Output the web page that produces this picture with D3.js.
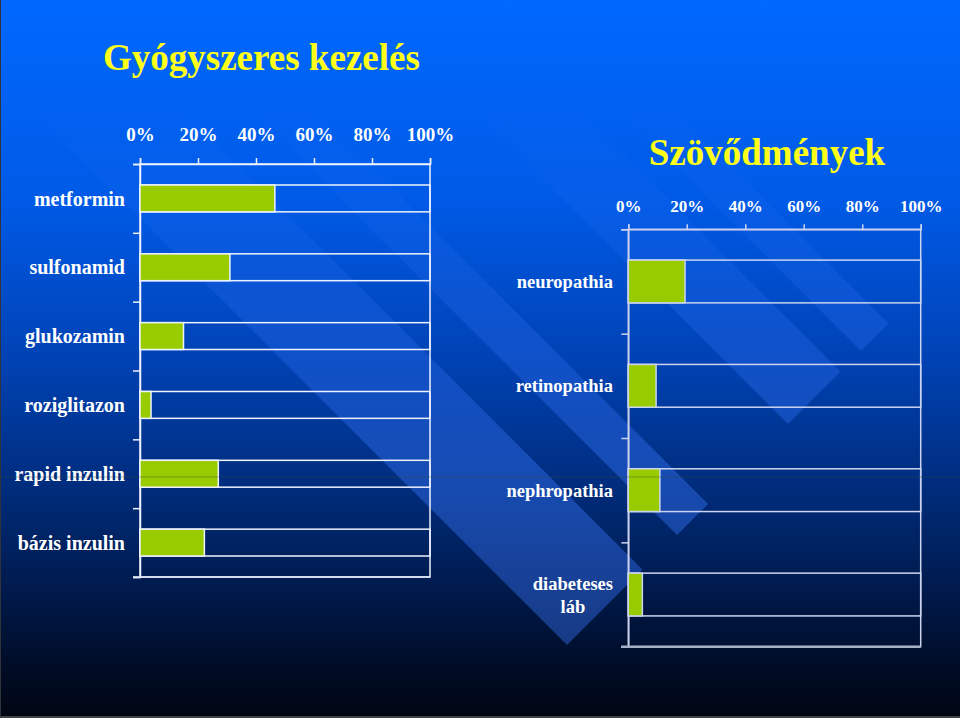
<!DOCTYPE html>
<html><head><meta charset="utf-8">
<script src="https://cdn.jsdelivr.net/npm/d3@7/dist/d3.min.js"></script>
<style>html,body{margin:0;padding:0;background:#000;}svg{display:block;}</style>
</head><body>
<script>
// ---- data ----
const titleLeft = "Gyógyszeres kezelés";
const titleRight = "Szövődmények";
const drugCategories = ["metformin","sulfonamid","glukozamin","roziglitazon","rapid inzulin","bázis inzulin"];
const drugValues = [46.5, 31, 15, 3.8, 27, 22.2];
const compCategories = ["neuropathia","retinopathia","nephropathia","diabeteses\nláb"];
const compValues = [19.4, 9.5, 10.8, 4.8];
const tickValues = [0, 20, 40, 60, 80, 100];
const tickLabels = ["0%","20%","40%","60%","80%","100%"];

const W = 960, H = 718;
const FONT = "'Liberation Serif','Times New Roman',serif";
const svg = d3.select("body").append("svg").attr("width", W).attr("height", H);
const defs = svg.append("defs");

// background gradient
const bg = defs.append("linearGradient").attr("id","bg").attr("x1",0).attr("y1",0).attr("x2",0).attr("y2",1);
[[0,"#0068ff"],[0.28,"#005ae6"],[0.5,"#0042b4"],[0.68,"#002c7c"],[0.82,"#001a4c"],[0.93,"#000c26"],[1,"#000612"]]
  .forEach(([o,c])=>bg.append("stop").attr("offset",o).attr("stop-color",c));
svg.append("rect").attr("width",W).attr("height",H).attr("fill","url(#bg)");

// diagonal beams (x-y edges, end at x+y = 1212)
const beams = [[-78,73],[142,204],[364,469],[510,565]];
const beamGrad = defs.append("linearGradient").attr("id","beam")
  .attr("gradientUnits","userSpaceOnUse").attr("x1",0).attr("y1",90).attr("x2",0).attr("y2",470);
beamGrad.append("stop").attr("offset",0).attr("stop-color","#3a78ff").attr("stop-opacity",0);
beamGrad.append("stop").attr("offset",0.35).attr("stop-color","#3a78ff").attr("stop-opacity",0.12);
beamGrad.append("stop").attr("offset",1).attr("stop-color","#3a78ff").attr("stop-opacity",0.4);
const endS = 1212, startS = 150;
beams.forEach(([a,b])=>{
  const pt = (d,s)=>[(s+d)/2,(s-d)/2];
  const pts = [pt(a,startS),pt(b,startS),pt(b,endS),pt(a,endS)];
  svg.append("polygon").attr("points",pts.map(p=>p.join(",")).join(" "))
    .attr("fill","url(#beam)");
});

// titles
svg.append("text").attr("x",103).attr("y",70).text(titleLeft)
  .attr("font-family",FONT).attr("font-weight","bold").attr("font-size",37).attr("fill","#ffff1a");
svg.append("text").attr("x",767).attr("y",165).attr("text-anchor","middle").text(titleRight)
  .attr("font-family",FONT).attr("font-weight","bold").attr("font-size",37).attr("fill","#ffff1a");

function drawChart(cfg){
  const g = svg.append("g");
  const x = d3.scaleLinear().domain([0,100]).range([cfg.x0,cfg.x1]);
  const y = d3.scaleBand().domain(cfg.cats).range([cfg.y0,cfg.y1])
    .paddingInner(cfg.pad).paddingOuter(cfg.pad/2);
  const yIdx = d3.scaleLinear().domain([0,cfg.cats.length]).range([cfg.y0,cfg.y1]);

  // frame
  g.append("rect").attr("x",cfg.x0).attr("y",cfg.y0).attr("width",cfg.x1-cfg.x0).attr("height",cfg.y1-cfg.y0)
    .attr("fill","none").attr("stroke",cfg.line).attr("stroke-width",1.5);

  // top axis
  const ax = g.append("g").attr("transform",`translate(0,${cfg.y0})`)
    .call(d3.axisTop(x).tickValues(tickValues).tickFormat((d,i)=>tickLabels[i])
      .tickSize(cfg.tick).tickPadding(cfg.tickPad));
  ax.select(".domain").attr("stroke",cfg.line).attr("stroke-width",1.5);
  ax.selectAll(".tick line").attr("stroke",cfg.line).attr("stroke-width",1.5);
  ax.selectAll(".tick text").attr("fill","#fff").attr("font-family",FONT).attr("font-weight","bold")
    .attr("font-size",cfg.tickFont);

  // left axis (band boundaries)
  const ay = g.append("g").attr("transform",`translate(${cfg.x0},0)`)
    .call(d3.axisLeft(yIdx).tickValues(d3.range(cfg.cats.length+1)).tickFormat("").tickSize(7));
  ay.select(".domain").attr("stroke",cfg.line).attr("stroke-width",1.5);
  ay.selectAll(".tick line").attr("stroke",cfg.line).attr("stroke-width",1.5);

  // bars: full outline + green value
  g.selectAll(".bg").data(cfg.cats).join("rect")
    .attr("x",x(0)).attr("y",d=>y(d)).attr("width",x(100)-x(0)).attr("height",y.bandwidth())
    .attr("fill","none").attr("stroke",cfg.line).attr("stroke-width",1.5);
  g.selectAll(".val").data(cfg.cats).join("rect")
    .attr("x",x(0)).attr("y",d=>y(d)).attr("width",(d,i)=>x(cfg.vals[i])-x(0)).attr("height",y.bandwidth())
    .attr("fill","#99cc00").attr("stroke",cfg.line).attr("stroke-width",1.5);

  // bottom line (slightly heavier)
  g.append("line").attr("x1",cfg.x0-7).attr("x2",cfg.x1).attr("y1",cfg.y1).attr("y2",cfg.y1)
    .attr("stroke",cfg.bottomLine).attr("stroke-width",cfg.bottomW);

  // category labels
  cfg.cats.forEach(c=>{
    const lines = c.split("\n");
    const cy = y(c)+y.bandwidth()/2;
    const t = g.append("text").attr("fill","#fff").attr("font-family",FONT).attr("font-weight","bold")
      .attr("font-size",cfg.labFont);
    const lh = cfg.labFont*1.25;
    const first = cy + cfg.labFont*0.36 - (lines.length-1)*lh/2;
    lines.forEach((l,k)=>t.append("tspan").attr("x",cfg.labRight).attr("y",first+k*lh).text(l));
    if(lines.length>1){
      const wmax = d3.max(t.selectAll("tspan").nodes(),n=>n.getComputedTextLength());
      t.attr("text-anchor","middle").selectAll("tspan").attr("x",cfg.labRight-wmax/2);
    } else t.attr("text-anchor","end");
  });
}

drawChart({cats:drugCategories, vals:drugValues, x0:140, x1:430, y0:164, y1:577, pad:0.61,
  line:"#eef2ff", bottomLine:"#e0e6f8", bottomW:1.5, tick:6, tickPad:17, tickFont:19, labFont:20, labRight:125});
drawChart({cats:compCategories, vals:compValues, x0:628.3, x1:920.7, y0:229.3, y1:646.7, pad:0.59,
  line:"#ccd4f0", bottomLine:"#a8b0c8", bottomW:2.5, tick:5, tickPad:12, tickFont:17, labFont:18.5, labRight:613});

// faint scan line artifact
svg.append("line").attr("x1",0).attr("x2",W).attr("y1",477).attr("y2",477)
  .attr("stroke","#3a4a40").attr("stroke-opacity",0.4).attr("stroke-width",1);
// thin border
svg.append("line").attr("x1",0).attr("x2",W).attr("y1",717).attr("y2",717).attr("stroke","#404448").attr("stroke-width",2);
svg.append("line").attr("x1",0.5).attr("x2",0.5).attr("y1",0).attr("y2",H).attr("stroke","#30343a").attr("stroke-width",1);
</script>
</body></html>
